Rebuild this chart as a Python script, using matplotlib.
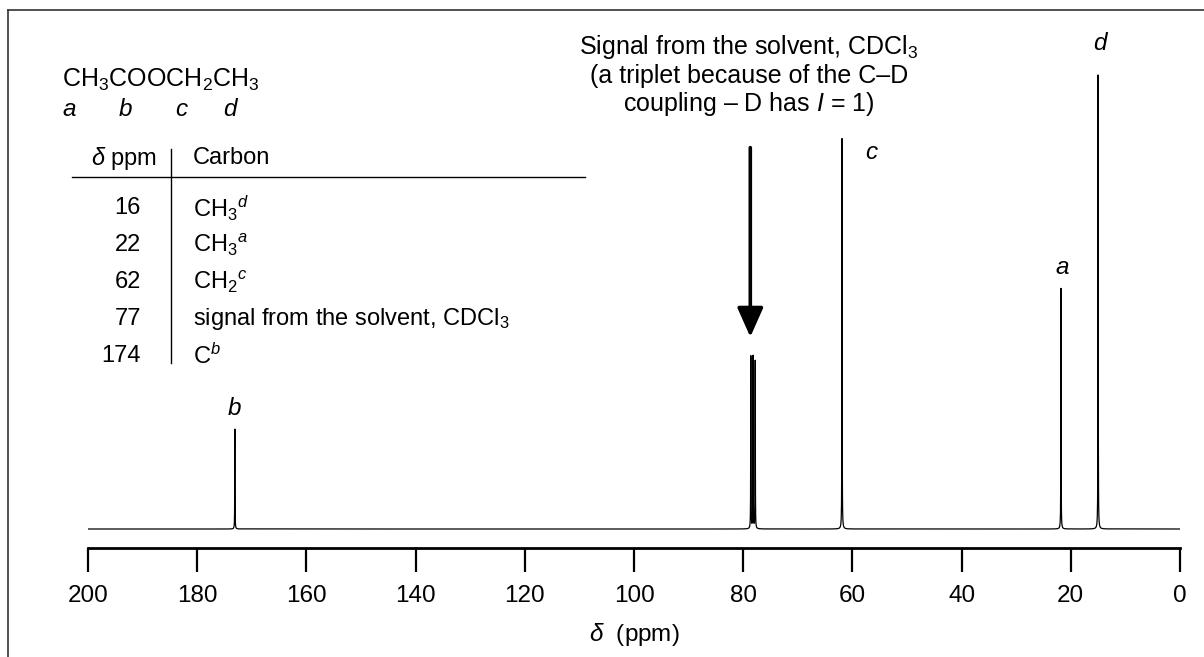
import numpy as np
import matplotlib
matplotlib.use("Agg")
import matplotlib.pyplot as plt
from matplotlib.lines import Line2D

plt.rcParams['font.family'] = ['Liberation Sans', 'DejaVu Sans']
plt.rcParams['mathtext.fontset'] = 'custom'
plt.rcParams['mathtext.rm'] = 'Liberation Sans'
plt.rcParams['mathtext.it'] = 'Liberation Sans:italic'
plt.rcParams['mathtext.bf'] = 'Liberation Sans:bold'

# 13C spectrum of ethyl acetate in CDCl3: line positions (ppm) and relative heights
peak_ppm = [173.1, 78.6, 78.2, 77.8, 61.9, 21.8, 15.0]
peak_height = [22, 38, 38, 37, 86, 53, 100]
peak_labels = ['b', 'c', 'a', 'd']
label_ppm = [173.1, 56.6, 21.6, 14.6]
label_y = [26.5, 83.0, 57.5, 107.0]

# assignment table
table_ppm = ['16', '22', '62', '77', '174']
table_carbon = ['CH$_3$$^{d}$', 'CH$_3$$^{a}$', 'CH$_2$$^{c}$',
                'signal from the solvent, CDCl$_3$', 'C$^{b}$']
x_ticks = [200, 180, 160, 140, 120, 100, 80, 60, 40, 20, 0]

W, H = 1204, 657
fig = plt.figure(figsize=(W / 100, H / 100), dpi=100)


def fx(px):
    return px / W


def fy(py):
    return 1 - py / H


ax_left, ax_right, ax_bottom, ax_top = 88, 1180, 548, 10
ax = fig.add_axes([fx(ax_left), fy(ax_bottom), fx(ax_right - ax_left),
                   (ax_bottom - ax_top) / H])

ppm = np.linspace(0, 200, 40001)
gamma = 0.025
spec = np.zeros_like(ppm)
for p, h in zip(peak_ppm, peak_height):
    spec += h * gamma ** 2 / ((ppm - p) ** 2 + gamma ** 2)

ax.plot(ppm, spec, color='black', lw=0.9)

px_per_unit = 454 / 100.0
ax.set_xlim(200, 0)
ax.set_ylim(-19 / px_per_unit, (ax_bottom - ax_top - 19) / px_per_unit)

for s in ['top', 'left', 'right']:
    ax.spines[s].set_visible(False)
ax.spines['bottom'].set_linewidth(2.0)
ax.set_yticks([])
ax.set_xticks(x_ticks)
ax.set_xticklabels([str(t) for t in x_ticks])
ax.tick_params(axis='x', direction='out', length=17, width=1.6,
               labelsize=17.5, pad=9.5)
ax.set_xlabel(r'$\delta$  (ppm)', fontsize=17.5, labelpad=10)

for lab, xp, yp in zip(peak_labels, label_ppm, label_y):
    ax.text(xp, yp, lab, fontsize=17.5, style='italic', ha='center',
            va='center')

# solvent annotation with arrow
ax.annotate('', xy=(78.7, 42.3), xytext=(78.7, 84.0),
            arrowprops=dict(arrowstyle='-|>,head_width=0.8,head_length=1.8',
                            lw=2.6, color='black', shrinkA=0, shrinkB=0))
ann_font = 18
fig.text(fx(749), fy(47), 'Signal from the solvent, CDCl$_3$',
         fontsize=ann_font, ha='center', va='center')
fig.text(fx(749), fy(76), '(a triplet because of the C–D',
         fontsize=ann_font, ha='center', va='center')
fig.text(fx(749), fy(104), 'coupling – D has $I$ = 1)', fontsize=ann_font,
         ha='center', va='center')

# structure
fig.text(fx(62), fy(80), 'CH$_3$COOCH$_2$CH$_3$', fontsize=18, ha='left',
         va='center')
for lab, xp in zip(['a', 'b', 'c', 'd'], [69, 125, 181, 230]):
    fig.text(fx(xp), fy(109), lab, fontsize=17.5, style='italic',
             ha='center', va='center')

# table
tfs = 17
fig.text(fx(157), fy(158), r'$\delta$ ppm', fontsize=tfs, ha='right',
         va='center')
fig.text(fx(193), fy(158), 'Carbon', fontsize=tfs, ha='left', va='center')
row_y = [208, 245, 282, 319, 356]
for v, c, yy in zip(table_ppm, table_carbon, row_y):
    fig.text(fx(141), fy(yy), v, fontsize=tfs, ha='right', va='center')
    fig.text(fx(193), fy(yy), c, fontsize=tfs, ha='left', va='center')
fig.add_artist(Line2D([fx(72), fx(585)], [fy(177), fy(177)], color='black',
                      lw=1.0))
fig.add_artist(Line2D([fx(171), fx(171)], [fy(149), fy(363)], color='black',
                      lw=1.0))

# frame lines at top and left
fig.add_artist(Line2D([fx(8), fx(1204)], [fy(10), fy(10)], color='#333333',
                      lw=1.2))
fig.add_artist(Line2D([fx(8), fx(8)], [fy(10), fy(657)], color='#333333',
                      lw=1.2))

fig.savefig('out.png', dpi=100)
